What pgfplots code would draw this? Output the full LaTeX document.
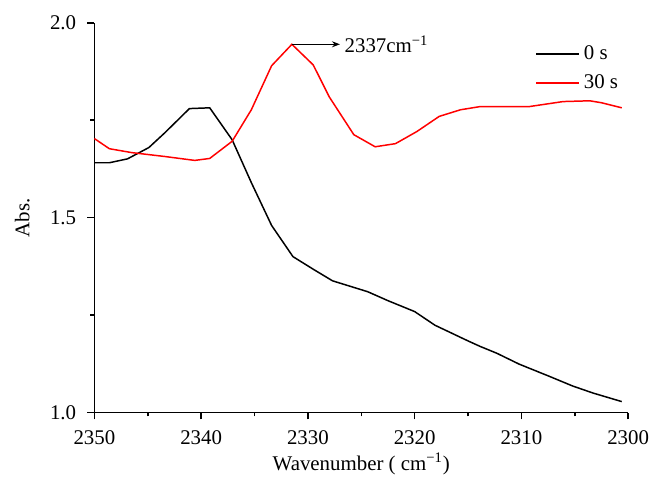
\documentclass[border=0pt]{standalone}
\usepackage{pgfplots}
\pgfplotsset{compat=1.18}
\usepackage{fontspec}
\setmainfont{Liberation Serif}
\usetikzlibrary{arrows.meta}
\begin{document}
\fontsize{10.5}{12.6}\selectfont
\begin{tikzpicture}
\begin{axis}[
  scale only axis,
  width=268.5pt, height=196pt,
  x dir=reverse,
  xmin=2300, xmax=2350, ymin=1.0, ymax=2.0,
  axis x line*=bottom, axis y line*=left,
  axis line style={line width=0.8pt},
  xtick={2300,2310,...,2350}, ytick={1.0,1.5,2.0},
  minor x tick num=1, minor y tick num=1,
  tick align=outside,
  major tick length=3.5pt, minor tick length=2pt,
  tick style={line width=0.8pt, black},
  /pgf/number format/assume math mode=true,
  x tick label style={/pgf/number format/1000 sep={}, yshift=-2pt},
  y tick label style={/pgf/number format/fixed, /pgf/number format/fixed zerofill, /pgf/number format/precision=1, xshift=-2pt},
  xlabel={Wavenumber ( cm\textsuperscript{\char"2212 1})},
  ylabel={Abs.},
  xlabel style={yshift=3pt},
  ylabel style={yshift=3pt},
  legend style={draw=none, fill=none, at={(rel axis cs:0.826,0.953)}, anchor=north west,
    inner sep=0pt, row sep=2pt, font=\fontsize{10.5}{12.6}\selectfont},
  legend cell align=left,
  legend image code/.code={\draw[#1] (0pt,0pt) -- (21.5pt,0pt);},
  clip=false,
]
\addplot[black, line width=0.75pt] coordinates {
(2350,1.641) (2348.6,1.641) (2346.9,1.651) (2344.9,1.680) (2343.4,1.718)
(2341.1,1.780) (2339.2,1.782) (2337.1,1.700) (2335.3,1.590) (2333.4,1.480)
(2331.4,1.400) (2329.4,1.366) (2327.7,1.338) (2324.4,1.310) (2322.5,1.287)
(2320.0,1.259) (2318.1,1.224) (2315.1,1.185) (2313.9,1.170) (2312.3,1.152)
(2310.2,1.124) (2307.4,1.093) (2305.2,1.068) (2303.3,1.050) (2300.6,1.028)
};
\addlegendentry{0 s}
\addplot[red, line width=0.75pt] coordinates {
(2350,1.703) (2348.6,1.677) (2346.5,1.667) (2343.4,1.657) (2340.6,1.647)
(2339.2,1.652) (2337.1,1.696) (2335.3,1.777) (2333.4,1.890) (2331.5,1.945)
(2329.5,1.892) (2328.0,1.810) (2325.7,1.713) (2323.7,1.682) (2321.8,1.690)
(2319.8,1.721) (2317.7,1.760) (2315.7,1.777) (2313.9,1.785) (2309.3,1.785)
(2306.1,1.798) (2303.6,1.800) (2302.5,1.795) (2300.6,1.782)
};
\addlegendentry{30 s}
\draw[line width=0.75pt, -{Stealth[length=4pt,width=3pt]}] (axis cs:2331.5,1.945) -- (axis cs:2327.0,1.945)
  node[right, inner sep=2pt] {2337cm\textsuperscript{\char"2212 1}};
\end{axis}
\path (-47.5pt,-37pt) rectangle (280.5pt,207.5pt);
\end{tikzpicture}
\end{document}
